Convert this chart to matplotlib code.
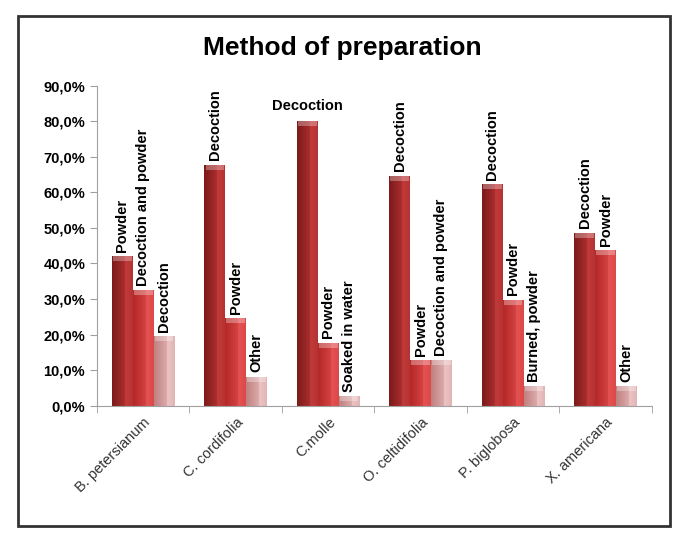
"""Method of preparation - grouped bar chart (Excel 3D style look)."""
import matplotlib
matplotlib.use("Agg")
import matplotlib.pyplot as plt
import numpy as np
from matplotlib.colors import LinearSegmentedColormap
from matplotlib.patches import Rectangle
from matplotlib.ticker import FuncFormatter, MultipleLocator

plt.rcParams["font.family"] = ["Liberation Sans", "DejaVu Sans"]

# ---- data ----
species = ["B. petersianum", "C. cordifolia", "C.molle",
           "O. celtidifolia", "P. biglobosa", "X. americana"]
first_vals = [42.1, 67.8, 80.0, 64.7, 62.4, 48.7]
second_vals = [32.5, 24.6, 17.7, 12.9, 29.8, 43.7]
third_vals = [19.5, 8.2, 2.7, 12.9, 5.5, 5.4]
first_labels = ["Powder", "Decoction", "Decoction", "Decoction", "Decoction", "Decoction"]
second_labels = ["Decoction and powder", "Powder", "Powder", "Powder", "Powder", "Powder"]
third_labels = ["Decoction", "Other", "Soaked in water", "Decoction and powder",
                "Burned, powder", "Other"]

series = [first_vals, second_vals, third_vals]
series_labels = [first_labels, second_labels, third_labels]
# (dark edge, light centre) per series
shades = [("#7d1a1a", "#c43a3a"), ("#b52828", "#e65252"), ("#c08080", "#ecc4c4")]

fig = plt.figure(figsize=(6.85, 5.5), dpi=100)
ax = fig.add_axes([0.1416, 0.2624, 0.81, 0.5818])

# outer chart frame
fig.patches.append(Rectangle((18 / 685, 1 - 526 / 550), (670 - 18) / 685, (526 - 16) / 550,
                             transform=fig.transFigure, fill=False,
                             edgecolor="#333333", linewidth=2.0))

x = np.arange(len(species))
w = 0.225
grad = np.linspace(0, 1, 64)
grad = np.concatenate([grad[:40], grad[40:][::-1] * 0.6 + 0.4])[None, :]

for i, (vals, labs) in enumerate(zip(series, series_labels)):
    dark, light = shades[i]
    cmap = LinearSegmentedColormap.from_list(f"s{i}", [dark, light])
    pos = x + (i - 1) * w
    bars = ax.bar(pos, vals, w, color=light, edgecolor="none", zorder=2)
    for b in bars:
        im = ax.imshow(grad, cmap=cmap, aspect="auto", zorder=2.1,
                       extent=[b.get_x(), b.get_x() + b.get_width(), 0, b.get_height()])
        im.set_clip_path(b)
    # light cap on top of each bar
    cap = 1.4
    ax.bar(pos, [cap] * len(vals), w * 0.9, bottom=[v - cap for v in vals],
           color="white", alpha=0.3, edgecolor="none", zorder=3)
    for p, v, lab, sp in zip(pos, vals, labs, species):
        if sp == "C.molle" and i == 0:
            ax.text(p, v + 2.2, lab, ha="center", va="bottom", fontsize=10.5,
                    fontweight="bold", zorder=4)
        else:
            ax.text(p, v + 1.2, lab, ha="center", va="bottom", rotation=90,
                    fontsize=10.5, fontweight="bold", zorder=4)

ax.set_xlim(-0.5, len(species) - 0.5)
ax.set_ylim(0, 90)
ax.set_xticks(x)
ax.set_xticklabels(species, rotation=45, ha="right", rotation_mode="anchor",
                   fontsize=10.5, color="#333333")
ax.set_xticks(np.arange(-0.5, len(species), 1), minor=True)
ax.tick_params(axis="x", which="major", length=0, pad=7)
ax.tick_params(axis="x", which="minor", length=5, color="#a0a0a0")
ax.yaxis.set_major_locator(MultipleLocator(10))
ax.yaxis.set_major_formatter(FuncFormatter(lambda v, _: f"{v:.1f}%".replace(".", ",")))
ax.tick_params(axis="y", length=5, color="#a0a0a0", labelsize=10.5)
for t in ax.get_yticklabels():
    t.set_fontweight("bold")
for s in ("top", "right"):
    ax.spines[s].set_visible(False)
for s in ("left", "bottom"):
    ax.spines[s].set_color("#a0a0a0")

fig.text(0.5, 1 - 48 / 550, "Method of preparation", ha="center", va="center",
         fontsize=19, fontweight="bold")

fig.savefig("out.png", dpi=100)
